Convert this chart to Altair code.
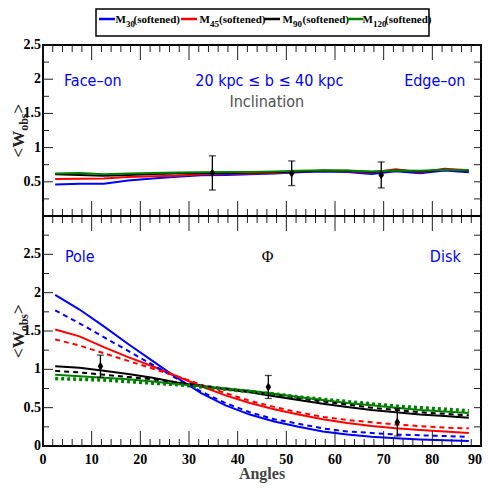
import altair as alt
import pandas as pd

# ---------------- data ----------------
angles = [2.5, 7.5, 12.5, 17.5, 22.5, 27.5, 32.5, 37.5, 42.5, 47.5,
          52.5, 57.5, 62.5, 67.5, 72.5, 77.5, 82.5, 87.5]
series = ["M30", "M45", "M90", "M120"]
legend_sub = ["30", "45", "90", "120"]
colors = ["#0000ff", "#ff0000", "#000000", "#008000"]

# top panel (inclination)
top_m30 = [0.46, 0.47, 0.47, 0.52, 0.55, 0.575, 0.595, 0.60, 0.61, 0.62, 0.64, 0.65, 0.645, 0.615, 0.655, 0.625, 0.665, 0.64]
top_m45 = [0.54, 0.545, 0.55, 0.57, 0.58, 0.59, 0.61, 0.62, 0.62, 0.63, 0.65, 0.66, 0.655, 0.635, 0.685, 0.64, 0.69, 0.67]
top_m90 = [0.61, 0.60, 0.59, 0.60, 0.615, 0.62, 0.63, 0.63, 0.635, 0.64, 0.65, 0.66, 0.66, 0.645, 0.665, 0.65, 0.675, 0.66]
top_m120 = [0.62, 0.63, 0.61, 0.62, 0.63, 0.635, 0.64, 0.645, 0.645, 0.65, 0.66, 0.67, 0.665, 0.65, 0.665, 0.66, 0.675, 0.67]

# bottom panel (Phi) solid / dashed
bot_m30_solid = [1.97, 1.78, 1.56, 1.33, 1.11, 0.89, 0.69, 0.53, 0.41, 0.32, 0.25, 0.19, 0.15, 0.12, 0.10, 0.085, 0.075, 0.065]
bot_m30_dash = [1.77, 1.60, 1.42, 1.24, 1.06, 0.88, 0.71, 0.56, 0.44, 0.35, 0.29, 0.23, 0.19, 0.17, 0.15, 0.14, 0.13, 0.12]
bot_m45_solid = [1.52, 1.43, 1.29, 1.16, 1.04, 0.91, 0.78, 0.66, 0.56, 0.48, 0.41, 0.35, 0.30, 0.26, 0.23, 0.21, 0.19, 0.17]
bot_m45_dash = [1.39, 1.31, 1.21, 1.11, 1.01, 0.91, 0.80, 0.69, 0.59, 0.51, 0.44, 0.38, 0.34, 0.31, 0.28, 0.26, 0.24, 0.23]
bot_m90_solid = [1.04, 1.02, 0.98, 0.94, 0.89, 0.83, 0.78, 0.74, 0.70, 0.65, 0.60, 0.55, 0.51, 0.47, 0.44, 0.41, 0.39, 0.37]
bot_m90_dash = [0.98, 0.96, 0.93, 0.90, 0.87, 0.83, 0.79, 0.75, 0.71, 0.67, 0.62, 0.58, 0.54, 0.50, 0.47, 0.44, 0.42, 0.40]
bot_m120_solid = [0.93, 0.91, 0.89, 0.87, 0.84, 0.81, 0.78, 0.75, 0.72, 0.68, 0.64, 0.60, 0.56, 0.53, 0.50, 0.47, 0.45, 0.43]
bot_m120_dash = [0.88, 0.87, 0.86, 0.84, 0.82, 0.80, 0.77, 0.74, 0.71, 0.68, 0.64, 0.61, 0.58, 0.55, 0.52, 0.50, 0.48, 0.46]

# observations with error bars
top_obs_angle = [34.8, 51.1, 69.5]
top_obs_w = [0.63, 0.625, 0.60]
top_obs_err = [0.25, 0.18, 0.19]
bot_obs_angle = [11.8, 46.3, 72.8]
bot_obs_w = [1.04, 0.77, 0.31]
bot_obs_err = [0.145, 0.15, 0.18]

# tick values / labels
x_major = [0, 10, 20, 30, 40, 50, 60, 70, 80, 90]
x_minor = [2, 4, 6, 8, 12, 14, 16, 18, 22, 24, 26, 28, 32, 34, 36, 38, 42, 44, 46, 48,
           52, 54, 56, 58, 62, 64, 66, 68, 72, 74, 76, 78, 82, 84, 86, 88]
x_labels = ["0", "10", "20", "30", "40", "50", "60", "70", "80", "90"]
top_y_major = [0.5, 1, 1.5, 2, 2.5]
top_y_minor = [0.25, 0.75, 1.25, 1.75, 2.25]
top_y_ticks = [0.5, 1, 1.5, 2, 2.5]
top_y_labels = ["0.5", "1", "1.5", "2", "2.5"]
bot_y_major = [0.5, 1, 1.5, 2, 2.5]
bot_y_minor = [0.25, 0.75, 1.25, 1.75, 2.25, 2.75]
bot_y_ticks = [0, 0.5, 1, 1.5, 2, 2.5]
bot_y_labels = ["0", "0.5", "1", "1.5", "2", "2.5"]

# ---------------- layout constants ----------------
W, H, TOP_H = 438, 401, 171
SERIF = "Liberation Serif"
SANS = "Liberation Sans Narrow, DejaVu Sans Condensed, Liberation Sans"


def long_df(lists):
    rows = []
    for name, vals in zip(series, lists):
        for a, v in zip(angles, vals):
            rows.append({"angle": a, "w": v, "series": name})
    return pd.DataFrame(rows)


top_df = long_df([top_m30, top_m45, top_m90, top_m120])
bot_solid_df = long_df([bot_m30_solid, bot_m45_solid, bot_m90_solid, bot_m120_solid])
bot_dash_df = long_df([bot_m30_dash, bot_m45_dash, bot_m90_dash, bot_m120_dash])
bot_dash_main = bot_dash_df[bot_dash_df.series != series[3]]
bot_dash_green = bot_dash_df[bot_dash_df.series == series[3]]

top_obs = pd.DataFrame({"angle": top_obs_angle, "w": top_obs_w,
                        "lo": [w - e for w, e in zip(top_obs_w, top_obs_err)],
                        "hi": [w + e for w, e in zip(top_obs_w, top_obs_err)]})
bot_obs = pd.DataFrame({"angle": bot_obs_angle, "w": bot_obs_w,
                        "lo": [w - e for w, e in zip(bot_obs_w, bot_obs_err)],
                        "hi": [w + e for w, e in zip(bot_obs_w, bot_obs_err)]})

xscale = alt.Scale(domain=[0, 90], nice=False, zero=False)
top_scale = alt.Scale(domain=[0, 2.5], range=[TOP_H, 0], nice=False, zero=False)
bot_scale = alt.Scale(domain=[0, 3], range=[H, TOP_H], nice=False, zero=False)
color_scale = alt.Scale(domain=series, range=colors)
width_scale = alt.Scale(domain=series, range=[2, 2, 2, 2.8])

DIAMOND = "M0,-1L0.62,0L0,1L-0.62,0Z"


def x_noaxis(field="angle"):
    return alt.X(f"{field}:Q", scale=xscale, axis=None)


def col():
    return alt.Color("series:N", scale=color_scale, legend=None)


def panel(scale, line_layers, obs_df, ymaj, ymin, ticks, labels):
    layers = list(line_layers)
    layers.append(alt.Chart(obs_df).mark_errorbar(ticks=True, size=7, thickness=1.3, color="black").encode(
        x=x_noaxis(), y=alt.Y("lo:Q", scale=scale, axis=None), y2="hi:Q"))
    layers.append(alt.Chart(obs_df).mark_point(shape=DIAMOND, filled=True, size=80, color="black", opacity=1).encode(
        x=x_noaxis(), y=alt.Y("w:Q", scale=scale, axis=None)))
    # y ticks (inward) left and right
    for vals, ln in ((ymaj, 10), (ymin, 6)):
        d = pd.DataFrame({"t": vals})
        layers.append(alt.Chart(d).mark_rule(color="#222", strokeWidth=1).encode(
            y=alt.Y("t:Q", scale=scale, axis=None), x=alt.value(0), x2=alt.value(ln)))
        layers.append(alt.Chart(d).mark_rule(color="#222", strokeWidth=1).encode(
            y=alt.Y("t:Q", scale=scale, axis=None), x=alt.value(W), x2=alt.value(W - 7)))
    # tick labels
    layers.append(alt.Chart(pd.DataFrame({"t": ticks, "lab": labels})).mark_text(
        font=SERIF, fontSize=14, fontWeight="bold", color="black", align="right",
        baseline="middle").encode(
        y=alt.Y("t:Q", scale=scale, axis=None), x=alt.value(-2), text="lab:N"))
    return alt.layer(*layers)


top_lines = alt.Chart(top_df).mark_line().encode(
    x=x_noaxis(), y=alt.Y("w:Q", scale=top_scale, axis=None), color=col(),
    strokeWidth=alt.StrokeWidth("series:N", scale=width_scale, legend=None),
    order="angle:Q")

bot_solid = alt.Chart(bot_solid_df).mark_line().encode(
    x=x_noaxis(), y=alt.Y("w:Q", scale=bot_scale, axis=None), color=col(),
    strokeWidth=alt.StrokeWidth("series:N", scale=width_scale, legend=None),
    order="angle:Q")
bot_dash = alt.Chart(bot_dash_main).mark_line(strokeDash=[5, 4], strokeWidth=2).encode(
    x=x_noaxis(), y=alt.Y("w:Q", scale=bot_scale, axis=None), color=col(), order="angle:Q")
bot_dash_g = alt.Chart(bot_dash_green).mark_line(strokeDash=[3, 3], strokeWidth=3.5).encode(
    x=x_noaxis(), y=alt.Y("w:Q", scale=bot_scale, axis=None), color=col(), order="angle:Q")

top_panel = panel(top_scale, [top_lines], top_obs, top_y_major, top_y_minor, top_y_ticks, top_y_labels)
bot_panel = panel(bot_scale, [bot_solid, bot_dash, bot_dash_g], bot_obs, bot_y_major, bot_y_minor,
                  bot_y_ticks, bot_y_labels)

deco = []
one = pd.DataFrame({"k": [0]})
# x ticks (inward) on top edge, middle line (both sides), bottom edge
for vals, ln in ((x_major, 15), (x_minor, 7)):
    d = pd.DataFrame({"t": vals})
    for y0, y1 in ((0, ln), (TOP_H - ln, TOP_H + ln), (H - ln, H)):
        deco.append(alt.Chart(d).mark_rule(color="#222", strokeWidth=1).encode(
            x=x_noaxis("t"), y=alt.value(y0), y2=alt.value(y1)))
deco.append(alt.Chart(one).mark_rule(color="black", strokeWidth=2).encode(
    x=alt.value(0), x2=alt.value(W), y=alt.value(TOP_H)))
# x tick labels and title (last label kept inside the drawing area)
lab_df = pd.DataFrame({"t": x_major, "lab": x_labels})
deco.append(alt.Chart(lab_df.iloc[:-1]).mark_text(
    font=SERIF, fontSize=14, fontWeight="bold", color="black", align="center", baseline="top").encode(
    x=x_noaxis("t"), y=alt.value(H + 7), text="lab:N"))
deco.append(alt.Chart(lab_df.iloc[-1:]).mark_text(
    font=SERIF, fontSize=14, fontWeight="bold", color="black", align="right", baseline="top", dx=1).encode(
    x=x_noaxis("t"), y=alt.value(H + 7), text="lab:N"))
deco.append(alt.Chart(one).mark_text(text="Angles", font=SERIF, fontSize=16, fontWeight="bold",
                                     color="#444444", align="center", baseline="alphabetic").encode(
    x=alt.value(W / 2), y=alt.value(H + 33)))

# annotations
notes = [
    ("Face–on", 49.8, 41, "#0000ff", SANS, 16),
    ("20 kpc ≤ b ≤ 40 kpc", 226.3, 41, "#0000ff", SANS, 16),
    ("Inclination", 223.8, 62, "#505050", SANS, 16),
    ("Edge–on", 391.8, 41, "#0000ff", SANS, 16),
    ("Pole", 36.8, 217, "#0000ff", SANS, 16),
    ("Φ", 224.5, 217, "#000000", SERIF, 16),
    ("Disk", 402.3, 217, "#0000ff", SANS, 16),
]
for txt, x, y, c, f, s in notes:
    deco.append(alt.Chart(one).mark_text(text=txt, font=f, fontSize=s, color=c,
                                         align="center", baseline="alphabetic").encode(
        x=alt.value(x), y=alt.value(y)))

# y titles <W_obs>
for yc in (TOP_H / 2, (TOP_H + H) / 2):
    start = yc + 27
    for txt, fs, xo, yo in (("<W", 17, -19.5, 0), ("obs", 12, -15.5, 26.7), (">", 17, -19.5, 44)):
        deco.append(alt.Chart(one).mark_text(text=txt, font=SERIF, fontSize=fs, fontWeight="bold",
                                             angle=270, align="left", baseline="alphabetic",
                                             color="#222").encode(x=alt.value(xo), y=alt.value(start - yo)))

# manual legend box above the top panel
deco.append(alt.Chart(one).mark_rect(fill="white", stroke="black", strokeWidth=1.5).encode(
    x=alt.value(53), x2=alt.value(386), y=alt.value(-36), y2=alt.value(-9)))
sw_x0 = [56, 138, 221, 304]
sub_x = [83, 167, 250, 330]
soft_x = [90.5, 176, 259.5, 342]
for i, s in enumerate(series):
    d = pd.DataFrame({"series": [s]})
    deco.append(alt.Chart(d).mark_rule(strokeWidth=2.5).encode(
        color=col(), x=alt.value(sw_x0[i]), x2=alt.value(sw_x0[i] + 16), y=alt.value(-26)))
    deco.append(alt.Chart(one).mark_text(text="M", font=SERIF, fontSize=11, fontWeight="bold",
                                         color="black", align="right", baseline="alphabetic").encode(
        x=alt.value(sub_x[i]), y=alt.value(-22)))
    deco.append(alt.Chart(one).mark_text(text=legend_sub[i], font=SERIF, fontSize=9, fontWeight="bold",
                                         color="black", align="left", baseline="alphabetic").encode(
        x=alt.value(sub_x[i]), y=alt.value(-18)))
    deco.append(alt.Chart(one).mark_text(text="(softened)", font=SERIF, fontSize=11, fontWeight="bold",
                                         color="black", align="left", baseline="alphabetic").encode(
        x=alt.value(soft_x[i]), y=alt.value(-22)))

chart = alt.layer(top_panel, bot_panel, *deco).resolve_scale(y="independent").properties(
    width=W, height=H,
    autosize=alt.AutoSizeParams(type="none"),
    padding={"left": 35, "top": 37, "right": 2, "bottom": 37},
).configure_view(stroke="black", strokeWidth=2)

chart.save("out.html", embed_options={"renderer": "svg", "actions": False})
